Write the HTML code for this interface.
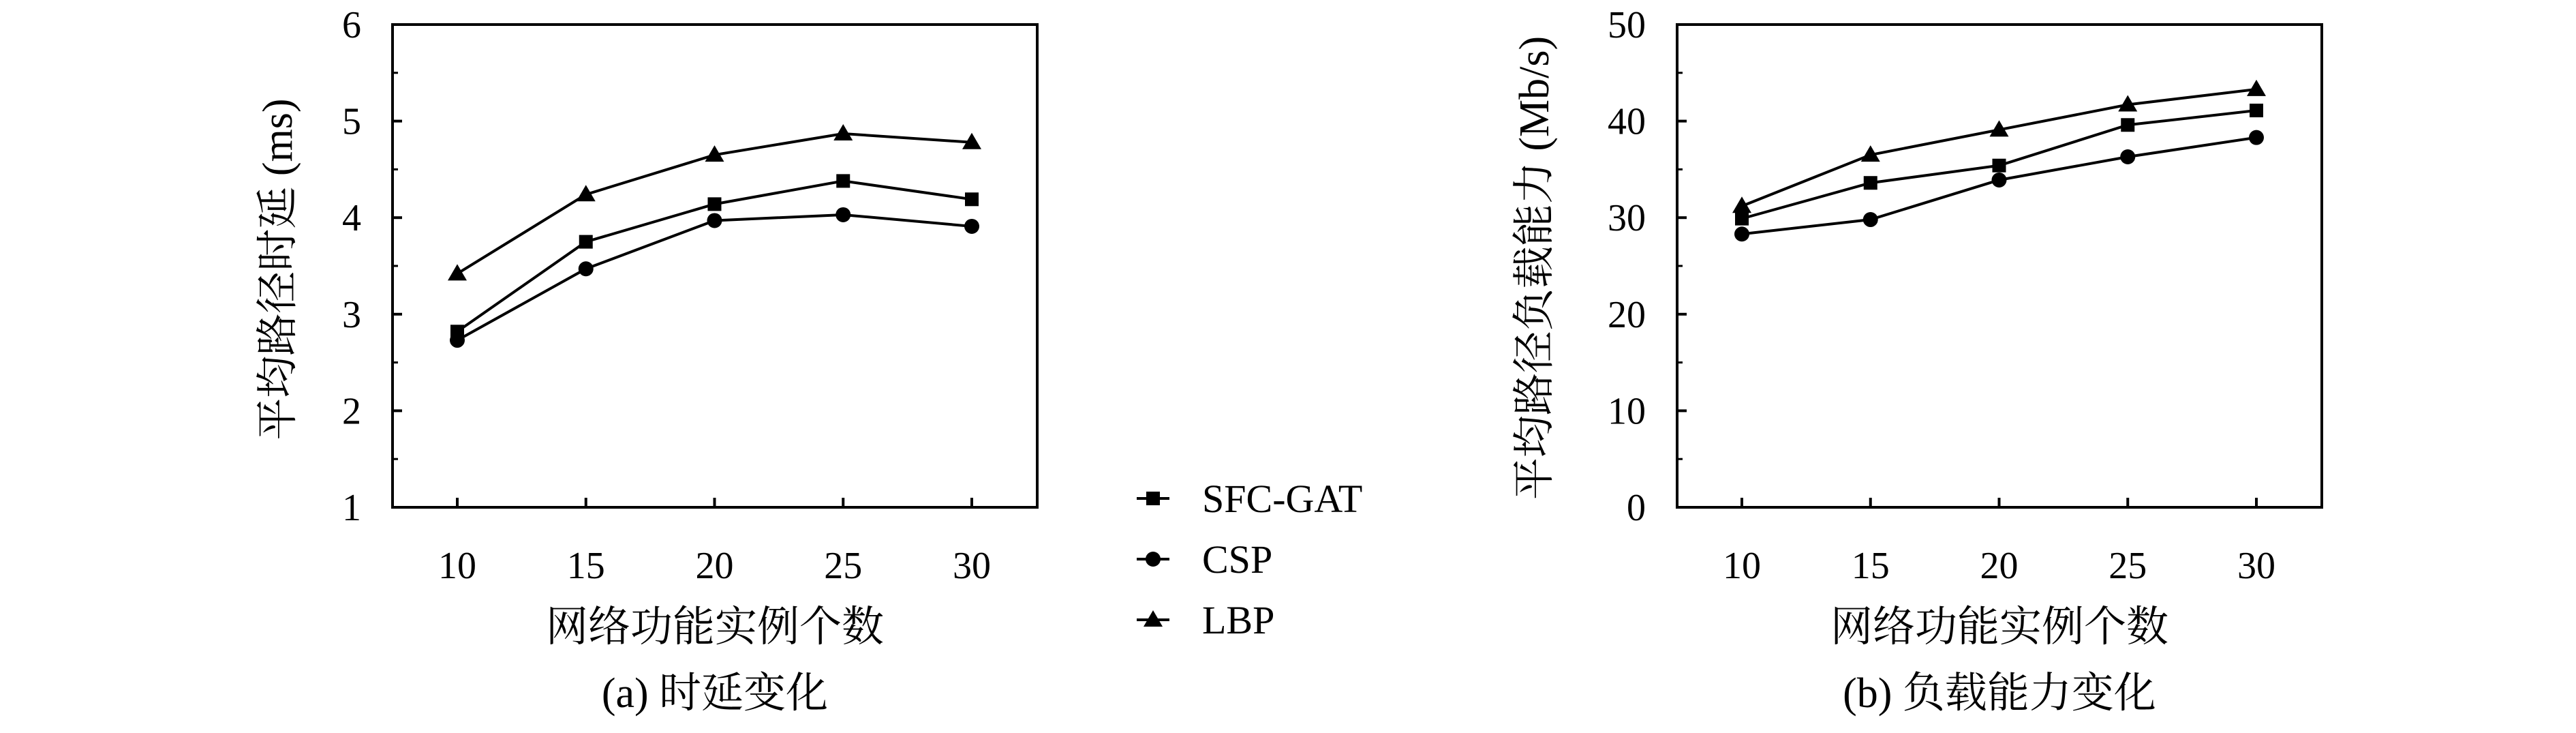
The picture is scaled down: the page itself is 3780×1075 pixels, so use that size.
<!DOCTYPE html>
<html><head><meta charset="utf-8">
<style>
html,body{margin:0;padding:0;background:#fff;}
svg{display:block;}
text{font-family:"Liberation Serif","Noto Serif CJK SC",serif;fill:#000;}
</style></head>
<body>
<svg id="fig" width="3780" height="1075" viewBox="0 0 3780 1075" xmlns="http://www.w3.org/2000/svg"></svg>
<script>
const categories = [10, 15, 20, 25, 30];
const delaySFC = [2.82, 3.75, 4.14, 4.38, 4.19];
const delayCSP = [2.73, 3.47, 3.97, 4.03, 3.91];
const delayLBP = [3.42, 4.24, 4.65, 4.87, 4.78];
const loadSFC = [29.9, 33.6, 35.4, 39.6, 41.1];
const loadCSP = [28.3, 29.8, 33.9, 36.3, 38.3];
const loadLBP = [31.2, 36.5, 39.1, 41.7, 43.3];
const delayTicks = ["1","2","3","4","5","6"];
const loadTicks = ["0","10","20","30","40","50"];
const seriesNames = ["SFC-GAT","CSP","LBP"];

const NS = "http://www.w3.org/2000/svg";
const svg = document.getElementById('fig');
function mk(tag, attrs, parent){
  const e = document.createElementNS(NS, tag);
  for (const k in attrs) e.setAttribute(k, attrs[k]);
  (parent||svg).appendChild(e);
  return e;
}
function marker(g, shape, x, y){
  let m;
  if (shape==='square') m = mk('rect',{x:x-10,y:y-10,width:20,height:20,fill:'#000'},g);
  else if (shape==='circle') m = mk('circle',{cx:x,cy:y,r:11,fill:'#000'},g);
  else m = mk('polygon',{points:`${x},${y-14} ${x+14},${y+10} ${x-14},${y+10}`,fill:'#000'},g);
  return m;
}
function chart(cfg){
  const g = mk('g',{});
  
  
  const {L,R,T,B,ymin,ymax} = cfg;
  const xs = v => cfg.x10 + (v-10)/20*(cfg.x30-cfg.x10);
  const ys = v => B - (v-ymin)/(ymax-ymin)*(B-T);
  const frame = mk('rect',{x:L,y:T,width:R-L,height:B-T,fill:'none',stroke:'#000','stroke-width':4},g);
  
  
  // y ticks
  const n = cfg.ticks.length;
  for (let i=0;i<n;i++){
    const v = ymin + i*(ymax-ymin)/(n-1);
    const y = ys(v);
    mk('line',{x1:L,x2:L+14,y1:y,y2:y,stroke:'#000','stroke-width':4},g);
    if (i<n-1){ const ym = ys(v+(ymax-ymin)/(n-1)/2); mk('line',{x1:L,x2:L+8,y1:ym,y2:ym,stroke:'#000','stroke-width':3},g); }
    const t = mk('text',{x:cfg.tickRight,y:y+19,'text-anchor':'end','font-size':56},g);
    t.textContent = cfg.ticks[i];
    
    
  }
  categories.forEach(c=>{
    const x = xs(c);
    mk('line',{x1:x,x2:x,y1:B,y2:B-14,stroke:'#000','stroke-width':4},g);
    const t = mk('text',{x:x,y:B+104,'text-anchor':'middle','font-size':56},g);
    t.textContent = c;
    
    
  });
  const shapes = ['square','circle','triangle'];
  cfg.series.forEach((s,si)=>{
    const sg = mk('g',{},g);
    
    
    const pts = s.map((v,i)=>xs(categories[i])+','+ys(v)).join(' ');
    mk('polyline',{points:pts,fill:'none',stroke:'#000','stroke-width':4},sg);
    s.forEach((v,i)=>{
      const m = marker(sg, shapes[si], xs(categories[i]), ys(v));
      
      
    });
  });
  const cx = (L+R)/2;
  const xl = mk('text',{x:cx,y:940,'text-anchor':'middle','font-size':62},g);
  xl.textContent = '网络功能实例个数';
  
  
  const cap = mk('text',{x:cx,y:1037,'text-anchor':'middle','font-size':62},g);
  cap.textContent = cfg.caption;
  
  
  const yl = mk('text',{x:0,y:0,'text-anchor':'middle','font-size':62,transform:`translate(${cfg.ytx},${cfg.yty}) rotate(-90)`},g);
  yl.textContent = cfg.ytitle;
  
  
}
chart({name:'delay-chart',L:576,R:1522,T:36,B:744,ymin:1,ymax:6,x10:671,x30:1426,ticks:delayTicks,tickRight:530,
  series:[delaySFC,delayCSP,delayLBP],caption:'(a) 时延变化',ytitle:'平均路径时延 (ms)',ytx:428,yty:395});
chart({name:'load-chart',L:2461,R:3407,T:36,B:744,ymin:0,ymax:50,x10:2556,x30:3311,ticks:loadTicks,tickRight:2415,
  series:[loadSFC,loadCSP,loadLBP],caption:'(b) 负载能力变化',ytitle:'平均路径负载能力 (Mb/s)',ytx:2272,yty:393});
// legend
const lg = mk('g',{});


const lshapes = ['square','circle','triangle'];
const lys = [731, 820, 909];
seriesNames.forEach((nm,i)=>{
  const eg = mk('g',{},lg);
  
  
  mk('line',{x1:1668,x2:1716,y1:lys[i],y2:lys[i],stroke:'#000','stroke-width':4},eg);
  marker(eg, lshapes[i], 1692, lys[i]);
  const t = mk('text',{x:1764,y:lys[i]+20,'font-size':58},eg);
  t.textContent = nm;
});
</script>
</body></html>
